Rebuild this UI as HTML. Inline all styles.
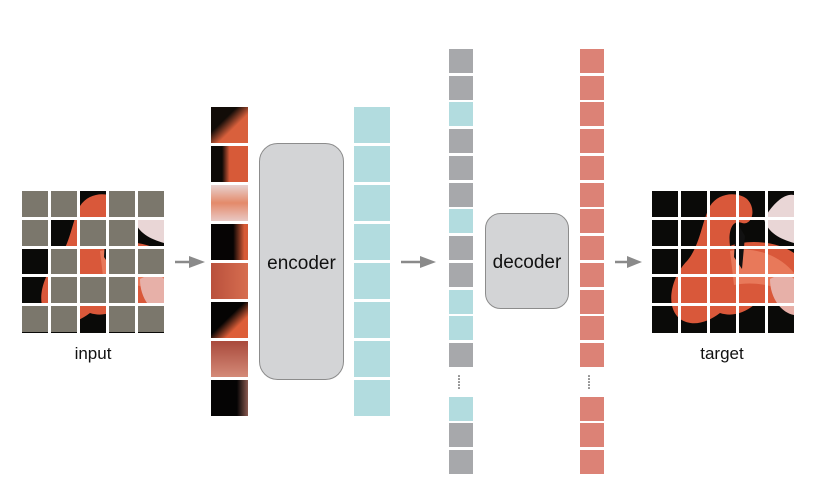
<!DOCTYPE html>
<html><head><meta charset="utf-8"><style>html,body{margin:0;padding:0;background:#fff}svg{display:block}</style></head>
<body>
<svg width="814" height="502" viewBox="0 0 814 502" xmlns="http://www.w3.org/2000/svg" font-family="Liberation Sans, sans-serif">
<defs>
  <g id="fl">
    <rect x="0" y="0" width="142" height="142" fill="#0a0a08"/>
    <path d="M28,128 C12,115 20,85 35,70 C48,55 50,30 58,15 C66,2 85,0 95,8 C105,18 100,35 90,32 C80,28 76,40 78,55 C95,48 125,50 142,62 L142,112 C128,118 112,110 102,114 C92,122 80,126 68,122 C55,132 40,136 28,128 Z" fill="#d9583a"/>
    <path d="M78,60 C98,55 126,62 142,82 L142,104 C122,94 102,90 82,94 Z" fill="#e8795a"/>
    <path d="M112,28 C122,10 134,2 142,4 L142,52 C128,48 116,42 112,28 Z" fill="#e9d6d6"/>
    <path d="M118,88 C128,82 140,84 142,88 L142,124 C130,122 118,108 118,88 Z" fill="#e7b0a8"/>
    <path d="M84,30 L93,45 L90,78 L82,66 Z" fill="#111"/>
  </g>
</defs>

<!-- input grid -->
<use href="#fl" x="22" y="191"/>
<g fill="#fff">
  <rect x="48" y="190" width="3" height="144"/><rect x="77" y="190" width="3" height="144"/><rect x="106" y="190" width="3" height="144"/><rect x="135" y="190" width="3" height="144"/>
  <rect x="21" y="217" width="144" height="3"/><rect x="21" y="246" width="144" height="3"/><rect x="21" y="274" width="144" height="3"/><rect x="21" y="303" width="144" height="3"/>
</g>
<g fill="#7b776c">
  <rect x="22" y="191" width="26" height="26"/><rect x="51" y="191" width="26" height="26"/><rect x="109" y="191" width="26" height="26"/><rect x="138" y="191" width="26" height="26"/>
  <rect x="22" y="220" width="26" height="26"/><rect x="80" y="220" width="26" height="26"/><rect x="109" y="220" width="26" height="26"/>
  <rect x="51" y="249" width="26" height="25"/><rect x="109" y="249" width="26" height="25"/><rect x="138" y="249" width="26" height="25"/>
  <rect x="51" y="277" width="26" height="26"/><rect x="80" y="277" width="26" height="26"/><rect x="109" y="277" width="26" height="26"/>
  <rect x="22" y="306" width="26" height="26"/><rect x="51" y="306" width="26" height="26"/><rect x="109" y="306" width="26" height="26"/><rect x="138" y="306" width="26" height="26"/>
</g>
<text x="93" y="359" font-size="17" text-anchor="middle" fill="#111">input</text>

<!-- arrows -->
<g fill="#8a8a8a" stroke="#8a8a8a" stroke-width="2.5">
  <line x1="175" y1="262" x2="192" y2="262"/><path d="M189,256 L205,262 L189,268 Z" stroke="none"/>
  <line x1="401" y1="262" x2="423" y2="262"/><path d="M420,256 L436,262 L420,268 Z" stroke="none"/>
  <line x1="615" y1="262" x2="630" y2="262"/><path d="M627,256 L642,262 L627,268 Z" stroke="none"/>
</g>

<!-- patch column -->
<defs>
  <linearGradient id="p1" x1="0" y1="0" x2="1" y2="1"><stop offset="0.35" stop-color="#120c08"/><stop offset="0.6" stop-color="#d9603c"/></linearGradient>
  <linearGradient id="p2" x1="0" y1="0" x2="1" y2="0"><stop offset="0.3" stop-color="#0d0906"/><stop offset="0.5" stop-color="#d75a38"/></linearGradient>
  <linearGradient id="p3" x1="0" y1="0" x2="0" y2="1"><stop offset="0" stop-color="#e8d2d0"/><stop offset="0.5" stop-color="#e48a6a"/><stop offset="1" stop-color="#e9c9c4"/></linearGradient>
  <linearGradient id="p4" x1="0" y1="0" x2="1" y2="0"><stop offset="0.6" stop-color="#060404"/><stop offset="0.9" stop-color="#d65a36"/></linearGradient>
  <linearGradient id="p5" x1="0" y1="0" x2="1" y2="0"><stop offset="0" stop-color="#b9503c"/><stop offset="1" stop-color="#d76e50"/></linearGradient>
  <linearGradient id="p6" x1="0" y1="0" x2="1" y2="1"><stop offset="0.45" stop-color="#050403"/><stop offset="0.7" stop-color="#dd5e38"/></linearGradient>
  <linearGradient id="p7" x1="0" y1="0" x2="0" y2="1"><stop offset="0" stop-color="#a94a3c"/><stop offset="1" stop-color="#d48a78"/></linearGradient>
  <linearGradient id="p8" x1="0" y1="0" x2="1" y2="0"><stop offset="0.7" stop-color="#050404"/><stop offset="1" stop-color="#8a5a50"/></linearGradient>
</defs>
<rect x="211" y="107" width="37" height="36" fill="url(#p1)"/>
<rect x="211" y="146" width="37" height="36" fill="url(#p2)"/>
<rect x="211" y="185" width="37" height="36" fill="url(#p3)"/>
<rect x="211" y="224" width="37" height="36" fill="url(#p4)"/>
<rect x="211" y="263" width="37" height="36" fill="url(#p5)"/>
<rect x="211" y="302" width="37" height="36" fill="url(#p6)"/>
<rect x="211" y="341" width="37" height="36" fill="url(#p7)"/>
<rect x="211" y="380" width="37" height="36" fill="url(#p8)"/>

<!-- encoder -->
<rect x="259.5" y="143.5" width="84" height="236" rx="18" fill="#d3d4d6" stroke="#8c8c8c" stroke-width="1"/>
<text x="301.5" y="269" font-size="19" text-anchor="middle" fill="#111">encoder</text>

<!-- cyan column -->
<g fill="#b2dcdf">
  <rect x="354" y="107" width="36" height="36"/><rect x="354" y="146" width="36" height="36"/><rect x="354" y="185" width="36" height="36"/><rect x="354" y="224" width="36" height="36"/>
  <rect x="354" y="263" width="36" height="36"/><rect x="354" y="302" width="36" height="36"/><rect x="354" y="341" width="36" height="36"/><rect x="354" y="380" width="36" height="36"/>
</g>

<!-- token column -->
<g>
  <rect x="449" y="49" width="24" height="24" fill="#a7a8ab"/>
  <rect x="449" y="76" width="24" height="24" fill="#a7a8ab"/>
  <rect x="449" y="102" width="24" height="24" fill="#b2dcdf"/>
  <rect x="449" y="129" width="24" height="24" fill="#a7a8ab"/>
  <rect x="449" y="156" width="24" height="24" fill="#a7a8ab"/>
  <rect x="449" y="183" width="24" height="24" fill="#a7a8ab"/>
  <rect x="449" y="209" width="24" height="24" fill="#b2dcdf"/>
  <rect x="449" y="236" width="24" height="24" fill="#a7a8ab"/>
  <rect x="449" y="263" width="24" height="24" fill="#a7a8ab"/>
  <rect x="449" y="290" width="24" height="24" fill="#b2dcdf"/>
  <rect x="449" y="316" width="24" height="24" fill="#b2dcdf"/>
  <rect x="449" y="343" width="24" height="24" fill="#a7a8ab"/>
  <rect x="449" y="397" width="24" height="24" fill="#b2dcdf"/>
  <rect x="449" y="423" width="24" height="24" fill="#a7a8ab"/>
  <rect x="449" y="450" width="24" height="24" fill="#a7a8ab"/>
</g>
<g fill="#222">
  <circle cx="459" cy="376" r="0.8"/><circle cx="459" cy="379" r="0.8"/><circle cx="459" cy="382" r="0.8"/><circle cx="459" cy="385" r="0.8"/><circle cx="459" cy="388" r="0.8"/>
  <circle cx="589" cy="376" r="0.8"/><circle cx="589" cy="379" r="0.8"/><circle cx="589" cy="382" r="0.8"/><circle cx="589" cy="385" r="0.8"/><circle cx="589" cy="388" r="0.8"/>
</g>

<!-- decoder -->
<rect x="485.5" y="213.5" width="83" height="95" rx="15" fill="#d3d4d6" stroke="#8c8c8c" stroke-width="1"/>
<text x="527" y="268" font-size="19" text-anchor="middle" fill="#111">decoder</text>

<!-- red column -->
<g fill="#dc8276">
  <rect x="580" y="49" width="24" height="24"/><rect x="580" y="76" width="24" height="24"/><rect x="580" y="102" width="24" height="24"/><rect x="580" y="129" width="24" height="24"/>
  <rect x="580" y="156" width="24" height="24"/><rect x="580" y="183" width="24" height="24"/><rect x="580" y="209" width="24" height="24"/><rect x="580" y="236" width="24" height="24"/>
  <rect x="580" y="263" width="24" height="24"/><rect x="580" y="290" width="24" height="24"/><rect x="580" y="316" width="24" height="24"/><rect x="580" y="343" width="24" height="24"/>
  <rect x="580" y="397" width="24" height="24"/><rect x="580" y="423" width="24" height="24"/><rect x="580" y="450" width="24" height="24"/>
</g>

<!-- target grid -->
<use href="#fl" x="652" y="191"/>
<g fill="#fff">
  <rect x="678" y="190" width="3" height="144"/><rect x="707" y="190" width="3" height="144"/><rect x="736" y="190" width="3" height="144"/><rect x="765" y="190" width="3" height="144"/>
  <rect x="651" y="217" width="144" height="3"/><rect x="651" y="246" width="144" height="3"/><rect x="651" y="274" width="144" height="3"/><rect x="651" y="303" width="144" height="3"/>
</g>
<text x="722" y="359" font-size="17" text-anchor="middle" fill="#111">target</text>
</svg>
</body></html>
